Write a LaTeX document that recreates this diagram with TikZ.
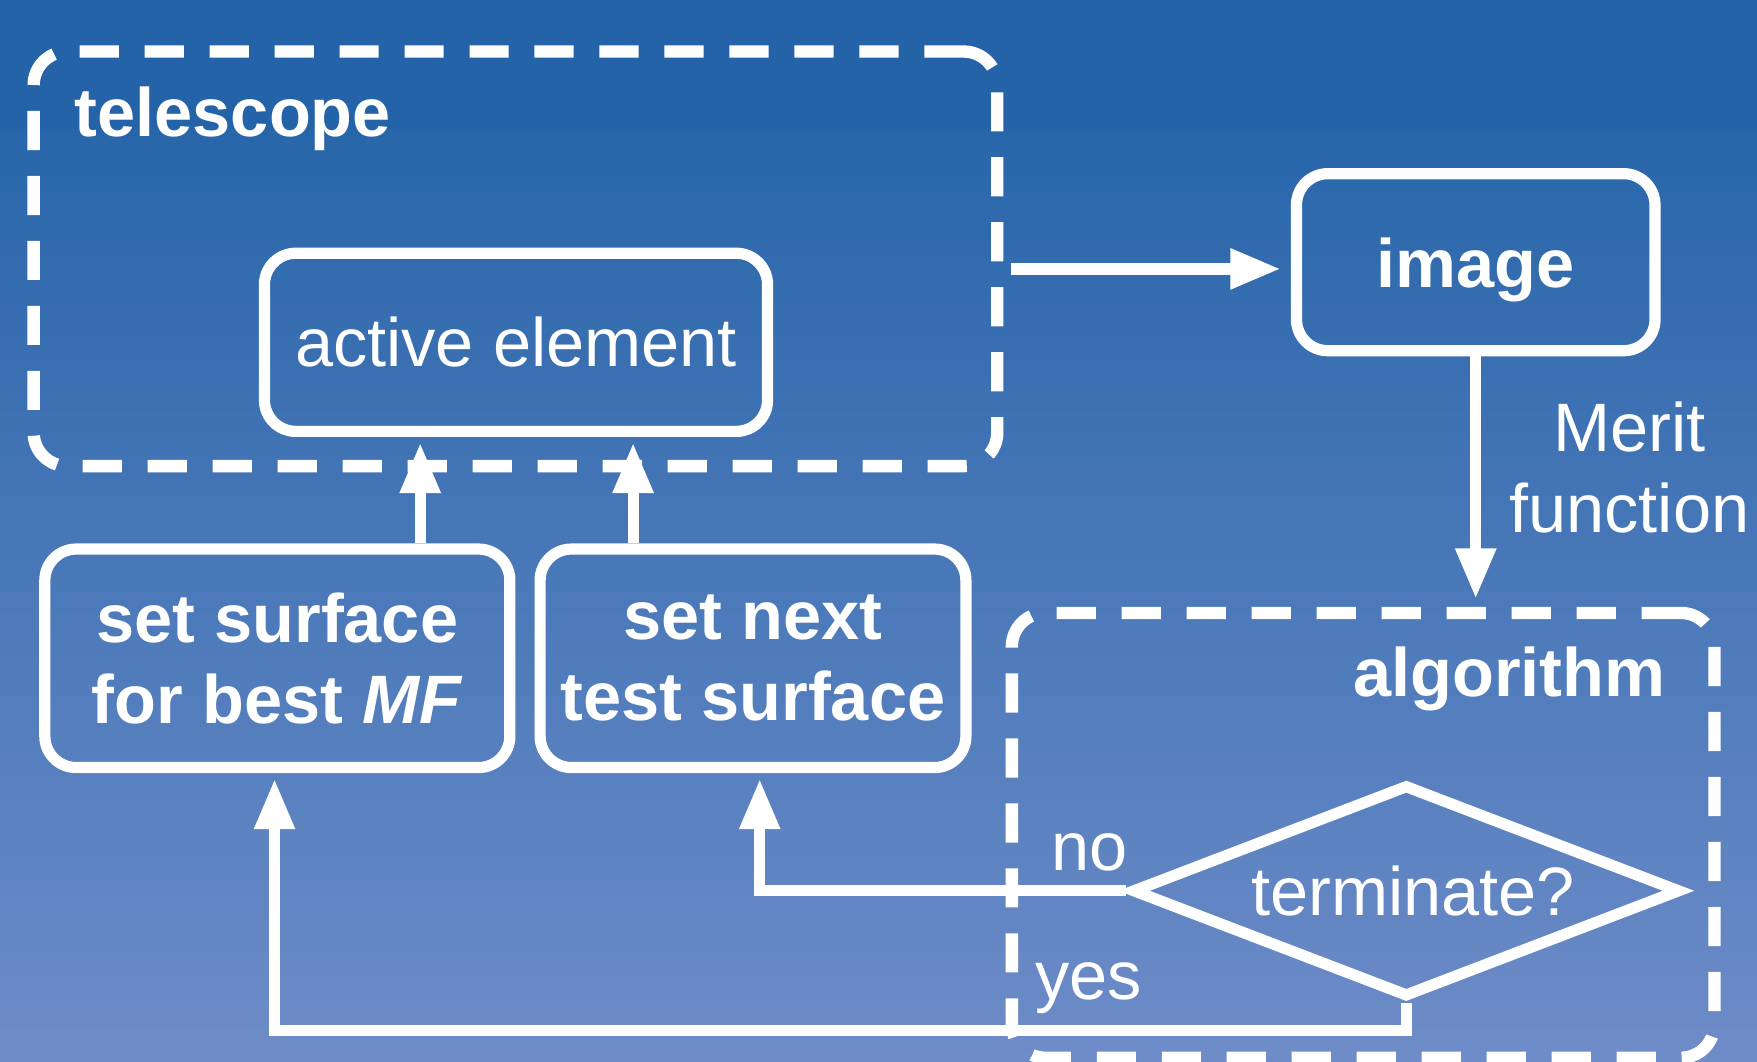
\documentclass[tikz,border=0pt]{standalone}
\usepackage{fontspec}
\setmainfont{Liberation Sans}
\usetikzlibrary{arrows.meta,shapes.geometric}

\definecolor{bgtop}{RGB}{36,99,167}
\definecolor{bgmid}{RGB}{40,102,170}
\definecolor{bgbot}{RGB}{110,140,200}
\newcommand\mainsz{\fontsize{17.4pt}{20.5pt}\selectfont}

\begin{document}
\begin{tikzpicture}[x=0.1mm,y=-0.1mm,
  every node/.style={text=white, font=\mainsz},
  box/.style={draw=white, line width=1mm, rounded corners=2.8mm, align=center, inner sep=0pt},
  group/.style={draw=white, line width=1.1mm, dash pattern=on 3.5mm off 2.3mm, rounded corners=3mm, inner sep=0pt},
  lbl/.style={inner sep=0pt},
  arr/.style={draw=white, line width=1mm, -{Triangle[length=4.5mm,width=3.4mm]}}]
\useasboundingbox (0,0) rectangle (1568,947);
\fill[bgtop] (0,0) rectangle (1568,116);
\shade[top color=bgmid, bottom color=bgbot] (0,116) rectangle (1568,947);

\node[group, minimum width=86mm, minimum height=37mm] (tele) at (460,231) {};
\node[lbl, anchor=base west, font=\mainsz\bfseries] (telelbl) at (66,122) {telescope};
\node[box, minimum width=44.9mm, minimum height=15.9mm] (act) at (460.5,305.5) {active element};

\node[box, minimum width=32mm, minimum height=15.8mm, font=\mainsz\bfseries, text depth=0pt] (img) at (1317,234) {image};
\node[align=center] (merit) at (1454,417) {Merit\\function};

\node[box, minimum width=41.5mm, minimum height=19.5mm, font=\mainsz\bfseries] (surf) at (247.5,587.5) {set surface\\for best \textit{MF}};
\node[box, minimum width=38mm, minimum height=19.5mm, font=\mainsz\bfseries] (next) at (672,587.5) {set next\\test surface};

\node[group, minimum width=62.7mm, minimum height=39.7mm] (algo) at (1216.5,745.5) {};
\node[lbl, anchor=base east, font=\mainsz\bfseries] (algolbl) at (1487,622) {algorithm};
\node[draw=white, line width=1mm, shape=diamond, aspect=2.58, inner sep=0pt, minimum width=49mm, minimum height=19mm] (dia) at (1255,795) {\hspace{1.2mm}terminate?};
\node[lbl, anchor=base west] (nolbl) at (938,777) {no};
\node[lbl, anchor=base west] (yeslbl) at (923,892) {yes};

\draw[arr, shorten <=0.7mm, shorten >=0.9mm] ([yshift=-0.6mm]tele.east |- img.west) -- ([yshift=-0.6mm]img.west);
\draw[arr, shorten >=0.7mm] (img.south) -- (img.south |- algo.north);
\draw[arr, shorten >=0.5mm] ([xshift=12.75mm]surf.north) -- ([xshift=12.75mm]surf.north |- act.south);
\draw[arr, shorten >=0.5mm] ([xshift=-10.7mm]next.north) -- ([xshift=-10.7mm]next.north |- act.south);
\draw[arr, shorten >=0.5mm] (dia.west) -| ([xshift=0.6mm]next.south);
\draw[arr, shorten >=0.5mm] (dia.south) -- ([yshift=-2.5mm]dia.south) -| ([xshift=-0.25mm]surf.south);
\end{tikzpicture}
\end{document}
